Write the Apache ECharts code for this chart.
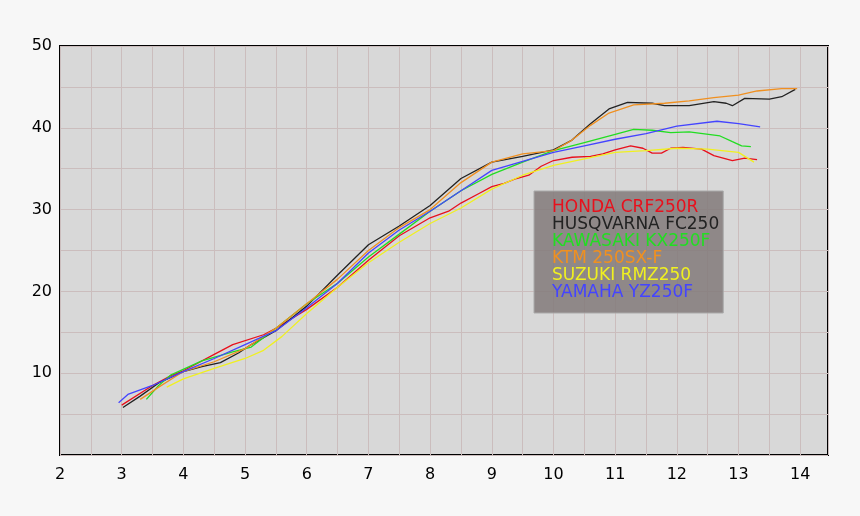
<!DOCTYPE html>
<html>
<head>
<meta charset="utf-8">
<script src="https://cdn.jsdelivr.net/npm/echarts@6/dist/echarts.min.js"></script>
<style>
  html, body { margin: 0; background: #f7f7f7; }
  #chart { width: 860px; height: 516px; }
</style>
</head>
<body>
<div id="chart"></div>
<script>
// 各车型数据 [x, y]
const seriesNames = ['HONDA CRF250R', 'HUSQVARNA FC250', 'KAWASAKI KX250F', 'KTM 250SX-F', 'SUZUKI RMZ250', 'YAMAHA YZ250F'];
const seriesColors = ['#e8101c', '#222222', '#22dd22', '#f09020', '#f0f020', '#4444ff'];

const honda = [[3.0,6.1],[3.5,8.5],[3.8,9.7],[4.0,10.3],[4.5,12.3],[4.8,13.5],[5.3,14.7],[5.5,15.5],[6.0,17.8],[6.5,20.5],[7.0,23.8],[7.5,26.8],[8.0,29],[8.3,29.8],[8.5,30.8],[8.8,32],[9.0,32.8],[9.2,33.2],[9.4,33.8],[9.6,34.2],[9.8,35.3],[10.0,36],[10.3,36.4],[10.6,36.5],[10.8,36.8],[11.0,37.3],[11.25,37.8],[11.45,37.5],[11.6,36.9],[11.75,36.9],[11.9,37.5],[12.1,37.6],[12.4,37.4],[12.6,36.6],[12.9,36],[13.1,36.3],[13.3,36.1]];
const husqvarna = [[3.02,5.8],[3.3,7.2],[3.6,8.8],[4.0,10.2],[4.3,10.8],[4.6,11.3],[4.9,12.5],[5.1,13.5],[5.5,15.2],[6.0,18.2],[6.5,22],[7.0,25.7],[7.5,28],[8.0,30.5],[8.5,33.8],[9.0,35.8],[9.5,36.5],[10.0,37.3],[10.3,38.5],[10.6,40.5],[10.9,42.3],[11.2,43.1],[11.6,43],[11.8,42.7],[12.2,42.7],[12.6,43.2],[12.8,43],[12.9,42.7],[13.1,43.6],[13.5,43.5],[13.7,43.8],[13.92,44.7]];
const kawasaki = [[3.4,6.8],[3.6,8.5],[3.8,9.8],[4.3,11.5],[4.8,12.6],[5.1,13.2],[5.5,15.5],[6.0,18.5],[6.5,21],[7.0,24.2],[7.5,27],[8.0,29.8],[8.5,32.3],[9.0,34.3],[9.5,35.8],[10.0,37.2],[10.5,38.2],[11.0,39.2],[11.3,39.8],[11.6,39.7],[11.9,39.4],[12.2,39.5],[12.7,39],[12.9,38.3],[13.05,37.8],[13.2,37.7]];
const ktm = [[3.3,6.8],[3.6,8.3],[4.0,10.2],[4.5,11.4],[5.0,13],[5.5,15.5],[6.0,18.5],[6.5,21.5],[7.0,25],[7.5,27.8],[8.0,30],[8.5,33.3],[9.0,35.8],[9.5,36.8],[10.0,37.2],[10.3,38.5],[10.6,40.3],[10.9,41.8],[11.3,42.8],[11.8,43],[12.2,43.3],[12.6,43.7],[13.0,44],[13.3,44.5],[13.7,44.8],[13.95,44.8]];
const suzuki = [[3.73,8.3],[4.0,9.3],[4.5,10.6],[5.0,11.8],[5.3,12.8],[5.6,14.5],[6.0,17.3],[6.5,20.5],[7.0,23.5],[7.5,26],[8.0,28.3],[8.5,30.2],[9.0,32.5],[9.5,34.2],[10.0,35.4],[10.5,36.2],[11.0,37],[11.5,37.2],[12.0,37.5],[12.5,37.4],[13.0,37],[13.25,35.8]];
const yamaha = [[2.95,6.4],[3.1,7.4],[3.5,8.5],[4.0,10.2],[4.5,11.8],[5.0,13.5],[5.5,15.2],[6.0,18],[6.5,21],[7.0,24.7],[7.5,27.5],[8.0,29.8],[8.5,32.3],[9.0,34.8],[9.5,35.9],[10.0,37],[10.5,37.8],[11.0,38.6],[11.5,39.3],[12.0,40.2],[12.65,40.8],[13.0,40.5],[13.35,40.1]];
const allData = [honda, husqvarna, kawasaki, ktm, suzuki, yamaha];

const chart = echarts.init(document.getElementById('chart'));
const gridLine = { show: true, lineStyle: { color: '#cbbdbd', width: 1 } };

chart.setOption({
  animation: false,
  backgroundColor: '#f7f7f7',
  textStyle: { fontFamily: 'DejaVu Sans' },
  grid: { left: 60, right: 32, top: 46, bottom: 61, show: true, backgroundColor: '#d8d8d8', borderColor: '#000', borderWidth: 2 },
  legend: {
    orient: 'vertical', left: 534, top: 191,
    icon: 'none', itemWidth: 0, itemHeight: 14, itemGap: 0,
    padding: [8, 4, 12, 18],
    backgroundColor: 'rgba(130,122,122,0.85)', borderColor: '#aaa', borderWidth: 1,
    selectedMode: false,
    textStyle: { fontSize: 17, lineHeight: 17, padding: [0, 0, 0, -6] },
    data: seriesNames.map((n, i) => ({ name: n, textStyle: { color: seriesColors[i] } }))
  },
  xAxis: {
    type: 'value', min: 2, max: 14.45, interval: 0.5,
    axisLine: { show: false }, axisTick: { show: false },
    axisLabel: { fontSize: 16, color: '#000', margin: 12, showMaxLabel: false,
      formatter: v => (Number.isInteger(v) ? String(v) : '') },
    splitLine: gridLine
  },
  yAxis: {
    type: 'value', min: 0, max: 50, interval: 5,
    axisLine: { show: false }, axisTick: { show: false },
    axisLabel: { fontSize: 16, color: '#000', margin: 8,
      formatter: v => (v > 0 && v % 10 === 0 ? String(v) : '') },
    splitLine: gridLine
  },
  series: allData.map((d, i) => ({
    name: seriesNames[i], type: 'line', data: d, symbol: 'none',
    itemStyle: { color: seriesColors[i] },
    lineStyle: { width: 1.3, color: seriesColors[i] }
  }))
});
</script>
</body>
</html>
